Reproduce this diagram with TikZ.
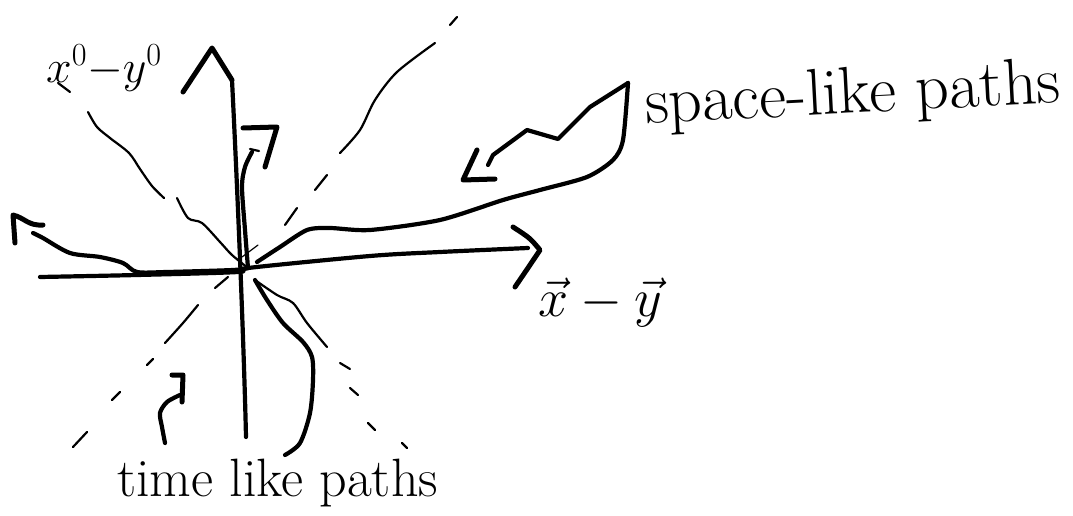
\RequirePackage{fix-cm}
\documentclass[tikz,border=0pt]{standalone}
\usepackage{fontspec}
\begin{document}
\begin{tikzpicture}[x=1pt,y=-1pt,
  pen/.style={line width=4.2pt, line cap=round, line join=round},
  tipstroke/.style={line width=5pt, line cap=round, line join=round},
  cone/.style={line width=2.2pt, line cap=round, line join=round},
  lbl/.style={inner sep=0pt, outer sep=0pt}]
\useasboundingbox (0,0) rectangle (1073,516);

\coordinate (O) at (248,268);

% time axis x^0 - y^0
\coordinate (tbot) at (246,437);
\coordinate (ttop) at (232,80);
\draw[pen] (tbot) .. controls (244,350) and (238,200) .. (ttop);
\draw[tipstroke] (183,92) -- (212,48) -- (ttop);

% space axis
\coordinate (sleft) at (40,277);
\coordinate (sright) at (528,248);
\draw[pen] plot[smooth, tension=0.5] coordinates {(sleft) (137,275) (238,272) (O) (370,256) (440,252) (sright)};
\draw[tipstroke] (513,227) .. controls (530,238) .. (540,250) .. controls (530,265) .. (515,287);

% light cone, upper-left / lower-right
\draw[cone] (58,83) -- (70,92);
\draw[cone] plot[smooth, tension=0.5] coordinates {(88,112) (97,127) (110,138) (129,153) (140,169) (152,186) (164,198)};
\draw[cone] plot[smooth, tension=0.5] coordinates {(177,198) (188,218) (202,223) (220,242) (232,255) (O)};
\draw[cone] plot[smooth, tension=0.5] coordinates {(255,280) (277,295) (293,303) (307,323) (327,347)};
\draw[cone] (340,363) -- (350,369);
\draw[cone] (350,388) -- (358,395);
\draw[cone] (368,423) -- (375,430);
\draw[cone] (402,443) -- (407,448);

% light cone, upper-right / lower-left
\draw[cone] (450,25) -- (457,17);
\draw[cone] plot[smooth, tension=0.5] coordinates {(435,43) (397,72) (375,100) (360,130) (340,153)};
\draw[cone] (327,175) -- (315,190);
\draw[cone] (297,208) -- (285,225);
\draw[cone, line width=1.2pt] (258,245) -- (242,257);
\draw[cone] (228,277) -- (215,288);
\draw[cone] plot[smooth, tension=0.5] coordinates {(198,305) (183,323) (165,343)};
\draw[cone] (153,359) -- (147,365);
\draw[cone] (120,392) -- (112,400);
\draw[cone] (87,432) -- (73,447);

% time-like path going up
\draw[pen] plot[smooth, tension=0.5] coordinates {(O) (245,230) (242,187) (245,167) (252,152)};
\draw[cone] (250,149) -- (259,151);
\draw[tipstroke] (243,128) -- (277,127) -- (265,167);

% time-like path going down
\draw[pen] plot[smooth, tension=0.5] coordinates {(255,280) (267,300) (283,323) (303,342) (312,357) (313,380) (310,413) (300,443) (285,455)};

% space-like path to the left
\draw[pen] plot[smooth, tension=0.5] coordinates {(O) (233,270) (167,272) (137,272) (123,263) (100,257) (70,253) (43,238) (33,233)};
\draw[tipstroke] (15,243) -- (13,215) .. controls (25,218) and (28,226) .. (43,225);

% space-like path to the right, hooked back towards its label
\draw[pen] plot[smooth, tension=0.45] coordinates {(257,262) (280,247) (307,230) (330,228) (370,230) (440,220) (503,200) (540,190) (587,177) (613,160) (623,140) (628,83)};
\draw[pen] (628,83) -- (590,107) -- (558,139) -- (527,130) -- (493,155) -- (488,165);
\draw[tipstroke] (477,150) -- (463,180) -- (495,179);

% pointer for the time-like label
\draw[pen] plot[smooth, tension=0.5] coordinates {(180,395) (167,402) (160,413) (162,427) (165,443)};
\draw[tipstroke] (172,375) -- (183,375) -- (182,402);

% labels
\node[lbl, anchor=center] (tlab) at (104,68) {\fontsize{46}{50}\selectfont $x^{0}\mkern-4mu-\mkern-4mu y^{0}$};
\node[lbl, anchor=center] (slab) at (600,303) {\fontsize{54}{60}\selectfont $\vec{x}-\vec{y}$};
\node[lbl, anchor=base west, rotate=3] (spacelike) at (646,124) {\fontsize{66}{72}\selectfont space-like paths};
\node[lbl, anchor=base west] (timelike) at (117,496) {\fontsize{54}{60}\selectfont time like paths};
\end{tikzpicture}
\end{document}
